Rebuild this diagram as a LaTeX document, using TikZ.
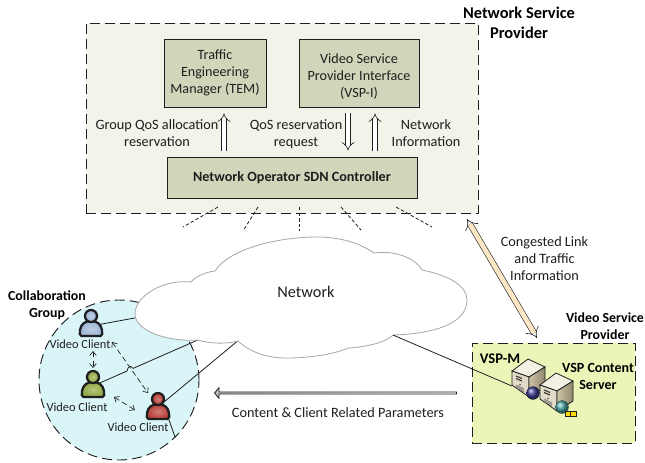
\documentclass[tikz,border=0pt]{standalone}
\usepackage{fontspec}
\setmainfont{Carlito}
\usepackage{tikz}
\usepackage{xcolor}
\usetikzlibrary{arrows.meta,shapes.arrows}
\definecolor{nsp-fill}{HTML}{F1F4E9}
\definecolor{block-fill}{HTML}{CFD6BA}
\definecolor{vsp-fill}{HTML}{EBF5B8}
\definecolor{group-fill}{HTML}{DAF5F7}
\definecolor{link-tan}{HTML}{FBE7C3}
\definecolor{client-blue}{HTML}{9DB4D6}
\definecolor{client-green}{HTML}{8FA83F}
\definecolor{client-red}{HTML}{B53A33}
\definecolor{ink}{HTML}{1E1E1E}
\definecolor{case-top}{HTML}{F4F0E4}
\definecolor{case-front}{HTML}{E2DBC8}
\definecolor{case-side}{HTML}{CFC5A8}
\definecolor{case-dark}{HTML}{8F866C}
\tikzset{
    region-box/.style = {draw=ink, line width=0.7pt, dash pattern=on 7.5pt off 3.75pt, rectangle, inner sep=0pt},
    block-box/.style = {draw=ink, fill=block-fill, semithick, rectangle, align=center, inner sep=0pt, text=ink, font=\fontsize{10.6}{12.75}\selectfont},
    label-text/.style = {align=center, inner sep=0pt, text=ink, font=\fontsize{10.7}{12.75}\selectfont},
    client-text/.style = {align=center, inner sep=0pt, text=ink, font=\fontsize{9.3}{11}\selectfont},
    title-text/.style = {align=center, inner sep=0pt, text=black, font=\fontsize{10.4}{13}\selectfont\bfseries},
    hollow-arrow/.style = {draw=ink, line width=0.45pt, double=white, double distance=3pt, -Implies},
    link-line/.style = {draw=ink, line width=0.6pt},
    stub-line/.style = {draw=ink, line width=0.6pt, dash pattern=on 2.6pt off 1.6pt},
    talk-arrow/.style = {draw=ink, line width=0.5pt, dash pattern=on 4pt off 2.5pt, {Straight Barb[length=3pt,width=5pt]}-{Straight Barb[length=3pt,width=5pt]}},
    pics/client/.style = {code={
        \draw[ink, line width=1.7pt, inner color=#1!65!white, outer color=#1] (-9.5,20) .. controls (-11.5,20) and (-11.5,17) .. (-11,14) .. controls (-10,8) and (-6,5) .. (0,5) .. controls (6,5) and (10,8) .. (11,14) .. controls (11.5,17) and (11.5,20) .. (9.5,20) -- cycle;
        \draw[ink, line width=1.7pt, inner color=#1!65!white, outer color=#1] (0,0) circle (6);
    }},
    pics/server/.style = {code={
        \draw[ink, line width=0.6pt, fill=case-top] (-16,12) -- (0,0) -- (17,8) -- (1,18) -- cycle;
        \draw[ink, line width=0.6pt, fill=case-front] (-16,12) -- (1,18) -- (1,38) -- (-16,26) -- cycle;
        \draw[ink, line width=0.6pt, left color=case-side, right color=case-dark] (1,18) -- (17,8) -- (17,28) -- (1,38) -- cycle;
        \draw[black!80, line width=0.8pt] (-12,17) -- (-6,19.5) (-12,19.5) -- (-6,22);
        \fill[black!60] (-8,25.5) circle (1);
        \draw[black!60, line width=0.4pt] (-12,26) -- (-4,30) (-12,27.5) -- (-4,31.5) (-12,29) -- (-4,33);
    }},
}

\begin{document}
\begin{tikzpicture}[x=0.75pt,y=-0.75pt]
\useasboundingbox (0,0) rectangle (645,462);

% provider box on top
\node[region-box, fill=nsp-fill, minimum width=294pt, minimum height=142.5pt] (nsp) at (282.25,118) {};
\node[block-box, minimum width=76.5pt, minimum height=51pt] (tem) at (215,73) {Traffic\\Engineering\\Manager (TEM)};
\node[block-box, minimum width=90pt, minimum height=51pt] (vspi) at (359,73) {};
\node[label-text, font=\fontsize{10.6}{12.75}\selectfont] (vspilabel) at (359,76.5) {Video Service\\Provider Interface\\(VSP-I)};
\node[block-box, minimum width=187.5pt, minimum height=30.75pt, font=\fontsize{10.6}{12.75}\selectfont\bfseries] (sdn) at (292,177.5) {Network Operator SDN Controller};
\node[title-text, font=\fontsize{12.3}{15}\selectfont\bfseries] (nsplabel) at (519,23) {Network Service\\Provider};

\coordinate (temx) at (224,0);
\coordinate (reqx) at (348,0);
\coordinate (infox) at (375,0);
\draw[hollow-arrow] ([yshift=4.5pt]sdn.north -| temx) -- ([yshift=-4.5pt]tem.south -| temx);
\draw[hollow-arrow] ([yshift=-4.5pt]vspi.south -| reqx) -- ([yshift=4.5pt]sdn.north -| reqx);
\draw[hollow-arrow] ([yshift=4.5pt]sdn.north -| infox) -- ([yshift=-4.5pt]vspi.south -| infox);
\node[label-text] (grouplabel) at (157,133) {Group QoS allocation\\reservation};
\node[label-text] (reqlabel) at (296,134) {QoS reservation\\request};
\node[label-text] (infolabel) at (426,133) {Network\\Information};

% dashed stubs under the provider box
\foreach \x/\y/\u/\v in {218/207/183/227, 258/207/243/231, 299/207/299/231, 341/207/361/230, 396/207/432/227}
    \draw[stub-line] (\x,\y) -- (\u,\v);

% collaboration group
\node[circle, draw=ink, line width=0.7pt, dash pattern=on 7.5pt off 3.75pt, fill=group-fill, minimum size=120pt, inner sep=0pt] (group) at (119,380) {};
\node[title-text] (grouptitle) at (47,305.5) {Collaboration\\Group};

\coordinate (cblue) at (91,316);
\coordinate (cgreen) at (93,377);
\coordinate (cred) at (158,399);
\coordinate (cloudblue) at (140,317);
\coordinate (cloudgreen) at (200,339);
\coordinate (cloudred) at (240,339);
\coordinate (cloudvsp) at (393,335);
\coordinate (hopa) at (127,371);
\coordinate (hopb) at (133,368.4);
\coordinate (tailend) at (175,437);
\coordinate (vspm) at (528,359);
\coordinate (vspc) at (556,373);

\draw[link-line] (91,326) -- (cloudblue);
\draw[link-line] (93,386) -- (hopa) .. controls (128,366) and (131,365) .. (hopb) -- (cloudgreen);
\draw[link-line] (158,407) -- (cloudred);
\draw[link-line] (cred) ++(10,18) -- (tailend);

% the cloud
\draw[draw=black!35, line width=0.6pt, fill=white] (191,282) .. controls (165,279) and (135,295) .. (135,314) .. controls (135,330) and (165,342) .. (198,340) .. controls (210,344) and (228,344) .. (238,341) .. controls (252,354) and (270,358) .. (287,358) .. controls (310,358) and (335,354) .. (348,348) .. controls (365,347) and (385,343) .. (393,335) .. controls (430,334) and (467,325) .. (467,300) .. controls (467,285) and (447,275) .. (422,270) .. controls (415,258) and (395,250) .. (374,253) .. controls (360,243) and (340,237) .. (317,237) .. controls (275,237) and (228,250) .. (215,271) .. controls (205,272) and (195,277) .. (191,282) -- cycle;
\node[label-text, font=\fontsize{12.2}{14}\selectfont] (network) at (306,292) {Network};

% clients
\pic at (cblue) {client=client-blue};
\pic at (cgreen) {client=client-green};
\pic at (cred) {client=client-red};
\node[client-text] (bluelabel) at (80,344) {Video Client};
\node[client-text] (greenlabel) at (77,407) {Video Client};
\node[client-text] (redlabel) at (138,427) {Video Client};
\coordinate (talka) at (112,342);
\coordinate (talkb) at (148,393);
\coordinate (talkc) at (93,351);
\coordinate (talkd) at (93,368);
\coordinate (talke) at (114,397);
\coordinate (talkf) at (135,410);
\draw[talk-arrow] (talka) -- (talkb);
\draw[talk-arrow] (talkc) -- (talkd);
\draw[talk-arrow] (talke) -- (talkf);

% video service provider
\node[region-box, fill=vsp-fill, minimum width=122.25pt, minimum height=75pt] (vsp) at (553.5,393) {};
\node[title-text] (vsptitle) at (605,326) {Video Service\\Provider};
\draw[link-line] (cloudvsp) -- (512,386);
\pic at (vspm) {server};
\pic at (vspc) {server};
\fill[ball color=blue!45!black!75] (533,393) circle (6.5);
\fill[ball color=green!50!blue!70] (562,407) circle (6.5);
\draw[ink, line width=0.5pt, fill=yellow!75!orange] (565.5,411) rectangle (570.5,416.5) (570.5,411) rectangle (576,416.5);
\node[title-text, font=\fontsize{11}{13}\selectfont\bfseries] (vspmlabel) at (500,359) {VSP-M};
\node[title-text, font=\fontsize{10.5}{13}\selectfont\bfseries] (contentlabel) at (598,376.5) {VSP Content\\Server};

% links between the regions
\coordinate (tana) at (467,219);
\coordinate (tanb) at (537,338);
\draw[draw=ink, line width=0.45pt, double=link-tan, double distance=3.6pt, Implies-Implies] (tana) -- (tanb);
\node[label-text] (congested) at (544.5,259) {Congested Link\\and Traffic\\Information};
\node[single arrow, shape border rotate=180, draw=ink, line width=0.6pt, left color=black!25, right color=white, minimum width=8pt, minimum height=181.5pt, single arrow head extend=1.2pt, single arrow tip angle=100, inner sep=0pt, text height=0pt, text depth=0pt] (paramarrow) at (336,393) {};
\node[label-text] (paramlabel) at (338,413) {Content \& Client Related Parameters};
\end{tikzpicture}
\end{document}
